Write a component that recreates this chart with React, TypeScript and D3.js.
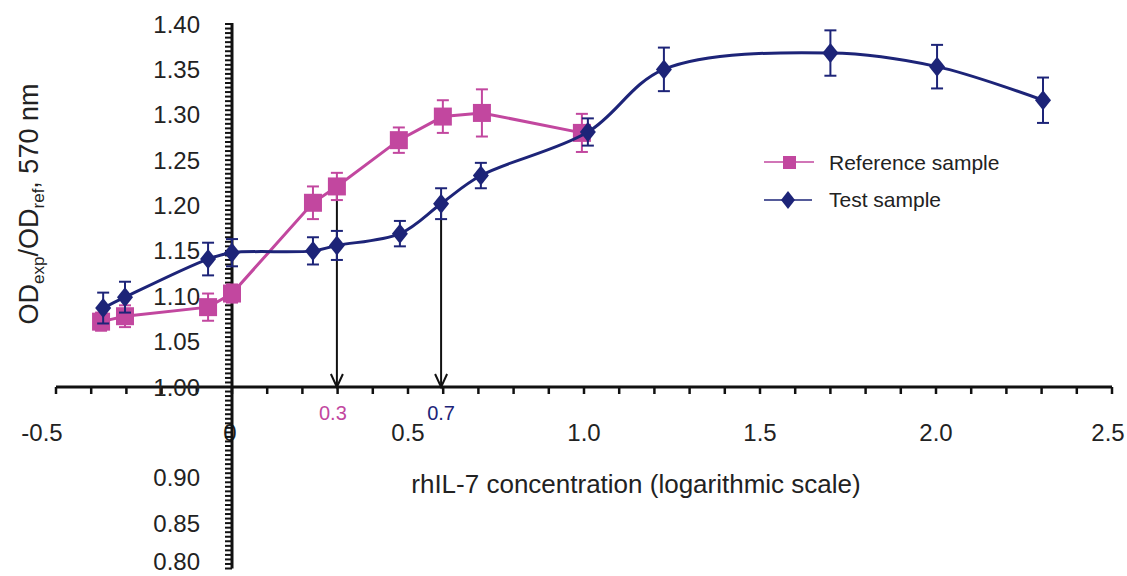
import React from "react";
import * as d3 from "d3";

// log concentration values and OD ratios
const refX = [-0.372, -0.304, -0.068, 0, 0.23, 0.298, 0.474, 0.599, 0.71, 0.994];
const refY = [1.072, 1.078, 1.088, 1.103, 1.203, 1.221, 1.272, 1.298, 1.302, 1.28];
const refErr = [0.01, 0.012, 0.015, 0.01, 0.018, 0.015, 0.014, 0.018, 0.026, 0.021];

const testX = [-0.366, -0.304, -0.068, 0, 0.23, 0.298, 0.477, 0.594, 0.707, 1.011, 1.227, 1.7, 2.003, 2.304];
const testY = [1.087, 1.099, 1.141, 1.148, 1.15, 1.156, 1.169, 1.202, 1.233, 1.281, 1.35, 1.368, 1.353, 1.316];
const testErr = [0.017, 0.017, 0.018, 0.015, 0.015, 0.016, 0.014, 0.017, 0.014, 0.015, 0.024, 0.025, 0.024, 0.025];

const xTickLabels = ["-0.5", "0", "0.5", "1.0", "1.5", "2.0", "2.5"];
const xTickValues = [-0.5, 0, 0.5, 1.0, 1.5, 2.0, 2.5];
const yTickLabels = ["1.40", "1.35", "1.30", "1.25", "1.20", "1.15", "1.10", "1.05", "1.00", "0.90", "0.85", "0.80"];

// arrows marking the points of equal effect
const markerX = [0.298, 0.594];
const markerY = [1.221, 1.202];
const markerLabels = ["0.3", "0.7"];

const PINK = "#c2479f";
const NAVY = "#1d2478";
const FONT = "'Liberation Sans', Arial, sans-serif";

const App = () => {
  const width = 1127;
  const height = 576;
  const x = d3.scaleLinear().domain([-0.5, 2.5]).range([56, 1112]);
  const y = d3.scaleLinear().domain([0.8, 1.4]).range([568.5, 24]);
  const x0 = x(0);
  const y0 = y(1.0);

  const xMinor = d3.range(-5, 26).map((i) => i / 10);
  const yMinor = d3.range(0, 121).map((i) => 0.8 + i * 0.005);

  const refPts = refX.map((v, i) => [x(v), y(refY[i])] as [number, number]);
  const testPts = testX.map((v, i) => [x(v), y(testY[i])] as [number, number]);
  const refLine = d3.line()(refPts);
  const testLine = d3.line().curve(d3.curveCatmullRom.alpha(0.5))(testPts);

  const errBar = (px, py, e, color, key) => (
    <g key={key} stroke={color} strokeWidth={2}>
      <line x1={px} x2={px} y1={y(py + e)} y2={y(py - e)} />
      <line x1={px - 6} x2={px + 6} y1={y(py + e)} y2={y(py + e)} />
      <line x1={px - 6} x2={px + 6} y1={y(py - e)} y2={y(py - e)} />
    </g>
  );

  const diamond = (cx, cy, key) => (
    <path key={key} d={`M${cx},${cy - 10} L${cx + 8},${cy} L${cx},${cy + 10} L${cx - 8},${cy} Z`} fill={NAVY} />
  );

  const xLabelShift = [-14, -2, 0, 0, 0, 0, -4];

  return (
    <svg width={width} height={height} style={{ position: "absolute", left: 0, top: 0, background: "#fff" }} fontFamily={FONT}>
      {/* arrows */}
      {markerX.map((mx, i) => (
        <g key={"arr" + i} stroke="#111" strokeWidth={2} fill="none">
          <line x1={x(mx)} x2={x(mx)} y1={y(markerY[i])} y2={y0} />
          <path d={`M${x(mx) - 6},${y0 - 13} L${x(mx)},${y0} L${x(mx) + 6},${y0 - 13}`} />
        </g>
      ))}
      {markerLabels.map((t, i) => (
        <text key={"ml" + i} x={x(markerX[i]) - (i === 0 ? 4 : 0)} y={420} textAnchor="middle" fontSize={20} fill={i === 0 ? PINK : NAVY}>
          {t}
        </text>
      ))}

      {/* x axis */}
      <line x1={x(-0.5)} x2={x(2.5)} y1={y0} y2={y0} stroke="#111" strokeWidth={3} />
      {xMinor.map((v, i) => (
        <line key={"xt" + i} x1={x(v)} x2={x(v)} y1={y0} y2={y0 + 7} stroke="#111" strokeWidth={2.5} />
      ))}
      {xTickValues.map((v, i) => (
        <text key={"xl" + i} x={x(v) + xLabelShift[i]} y={441} textAnchor="middle" fontSize={24} fill="#222">
          {xTickLabels[i]}
        </text>
      ))}

      {/* y axis */}
      <line x1={x0} x2={x0} y1={y(1.4) - 1} y2={y(0.8)} stroke="#111" strokeWidth={3} />
      {yMinor.map((v, i) => (
        <line key={"yt" + i} x1={x0 - 7} x2={x0} y1={y(v)} y2={y(v)} stroke="#111" strokeWidth={2} />
      ))}
      {yTickLabels.map((t, i) => (
        <text key={"yl" + i} x={200} y={Math.min(y(+t) + 8.5, 570)} textAnchor="end" fontSize={24} fill="#222">
          {t}
        </text>
      ))}

      {/* axis titles */}
      <text x={636} y={493} textAnchor="middle" fontSize={26} fill="#222">
        rhIL-7 concentration (logarithmic scale)
      </text>
      <text transform="translate(38,204) rotate(-90)" textAnchor="middle" fontSize={27} fill="#222">
        OD<tspan fontSize={17} dy={6}>exp</tspan>
        <tspan dy={-6}>/OD</tspan>
        <tspan fontSize={17} dy={6}>ref</tspan>
        <tspan dy={-6}>, 570 nm</tspan>
      </text>

      {/* reference series */}
      <path d={refLine} fill="none" stroke={PINK} strokeWidth={3} />
      {refPts.map(([px], i) => errBar(px, refY[i], refErr[i], PINK, "re" + i))}
      {refPts.map(([px, py], i) => (
        <rect key={"rp" + i} x={px - 9} y={py - 9} width={18} height={18} fill={PINK} />
      ))}

      {/* test series */}
      <path d={testLine} fill="none" stroke={NAVY} strokeWidth={3} />
      {testPts.map(([px], i) => errBar(px, testY[i], testErr[i], NAVY, "te" + i))}
      {testPts.map(([px, py], i) => diamond(px, py, "tp" + i))}

      {/* legend */}
      <line x1={764} x2={814} y1={162} y2={162} stroke={PINK} strokeWidth={1.5} />
      <rect x={783} y={156} width={13} height={13} fill={PINK} />
      <text x={829} y={170} fontSize={21} fill="#222">Reference sample</text>
      <line x1={764} x2={812} y1={200} y2={200} stroke={NAVY} strokeWidth={1.5} />
      <path d="M788,191 L795,200 L788,209 L781,200 Z" fill={NAVY} />
      <text x={829} y={207} fontSize={21} fill="#222">Test sample</text>
    </svg>
  );
};

export default App;
